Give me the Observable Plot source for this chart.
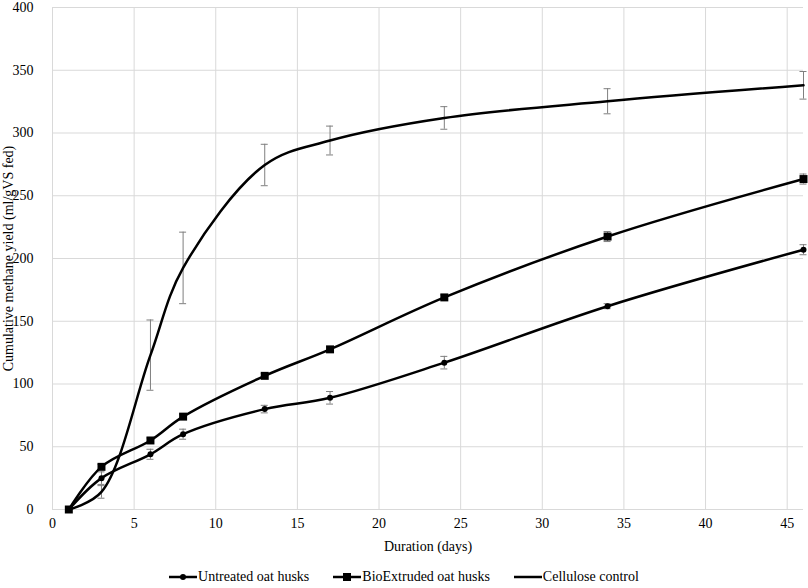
<!DOCTYPE html>
<html><head><meta charset="utf-8">
<script src="https://cdn.jsdelivr.net/npm/d3@7"></script>
<script src="https://cdn.jsdelivr.net/npm/@observablehq/plot@0.6"></script>
<style>
body{margin:0;background:#fff;font-family:"Times New Roman",Times,"Liberation Serif","DejaVu Serif","Noto Serif",serif;}
svg text{font-family:"Times New Roman",Times,"Liberation Serif","DejaVu Serif","Noto Serif",serif !important;}
#legend{display:flex;justify-content:center;align-items:center;font-size:14px;color:#000;height:22px;margin-top:6px;}
#legend .item{display:flex;align-items:center;margin:0 12px;}
#legend svg{margin-right:1px;}
</style></head><body>
<div id="chart"></div>
<div id="legend"></div>
<script>
const days = [1, 3, 6, 8, 13, 17, 24, 34, 46];
const untreated = [0, 25, 44, 60, 80, 89, 117, 162, 207];
const untreatedErr = [0, 5, 4, 4, 3, 5, 5, 2, 4];
const bioextruded = [0, 34, 55, 74, 106.5, 127.6, 169, 217.5, 263.3];
const bioextrudedErr = [0, 2, 2, 2, 2, 2, 2, 4, 4];
const cellulose = [0, 14, 123, 192.5, 274.5, 294, 312, 325.3, 338];
const celluloseErr = [0, 5, 28, 28.5, 16.5, 11.5, 9, 10, 11];
const seriesNames = ["Untreated oat husks", "BioExtruded oat husks", "Cellulose control"];
const xTicks = [0, 5, 10, 15, 20, 25, 30, 35, 40, 45];
const yTicks = [0, 50, 100, 150, 200, 250, 300, 350, 400];

const values = [untreated, bioextruded, cellulose];
const errs = [untreatedErr, bioextrudedErr, celluloseErr];
const data = [];
seriesNames.forEach((s, i) => days.forEach((d, j) => {
  data.push({series: s, day: d, value: values[i][j], err: errs[i][j]});
}));
const errData = data.filter(d => d.err > 0);

const chart = Plot.plot({
  width: 808,
  height: 560,
  marginLeft: 52,
  marginRight: 5,
  marginTop: 7,
  marginBottom: 51,
  style: {fontFamily: "'Times New Roman', Times, 'Liberation Serif', 'DejaVu Serif', serif", fontSize: "14px", color: "#000", background: "#fff"},
  x: {domain: [0, 46]},
  y: {domain: [0, 400]},
  marks: [
    Plot.ruleX(xTicks, {stroke: "#d9d9d9", strokeWidth: 1}),
    Plot.ruleY(yTicks, {stroke: "#d9d9d9", strokeWidth: 1}),
    Plot.axisX({ticks: xTicks, tickSize: 0, tickPadding: 9, label: "Duration (days)", labelAnchor: "center", labelOffset: 41, labelArrow: "none", fill: "#000"}),
    Plot.axisY({ticks: yTicks, tickSize: 0, tickPadding: 19, label: "Cumulative methane yield (ml/gVS fed)", labelAnchor: "center", labelOffset: 49, labelArrow: "none", fill: "#000"}),
    Plot.ruleX(errData, {x: "day", y1: d => d.value - d.err, y2: d => d.value + d.err, stroke: "#7f7f7f", strokeWidth: 1}),
    Plot.ruleY(errData, {y: d => d.value + d.err, x1: "day", x2: "day", insetLeft: -3.5, insetRight: -3.5, stroke: "#7f7f7f", strokeWidth: 1}),
    Plot.ruleY(errData, {y: d => d.value - d.err, x1: "day", x2: "day", insetLeft: -3.5, insetRight: -3.5, stroke: "#7f7f7f", strokeWidth: 1}),
    Plot.line(data, {x: "day", y: "value", z: "series", stroke: "#000", strokeWidth: 2.5, curve: "catmull-rom"}),
    Plot.dot(data.filter(d => d.series === seriesNames[0]), {x: "day", y: "value", r: 3, fill: "#000", stroke: "none"}),
    Plot.dot(data.filter(d => d.series === seriesNames[1]), {x: "day", y: "value", r: 4.5, symbol: "square", fill: "#000", stroke: "none"})
  ]
});
document.getElementById("chart").appendChild(chart);

const legend = document.getElementById("legend");
const markerSvg = [
  '<circle cx="14" cy="7" r="3" fill="#000"/>',
  '<rect x="10" y="3" width="8" height="8" fill="#000"/>',
  ''
];
seriesNames.forEach((s, i) => {
  const item = document.createElement("div");
  item.className = "item";
  item.innerHTML = `<svg width="28" height="14"><line x1="0" y1="7" x2="28" y2="7" stroke="#000" stroke-width="2.5"/>${markerSvg[i]}</svg><span>${s}</span>`;
  legend.appendChild(item);
});
</script>
</body></html>
